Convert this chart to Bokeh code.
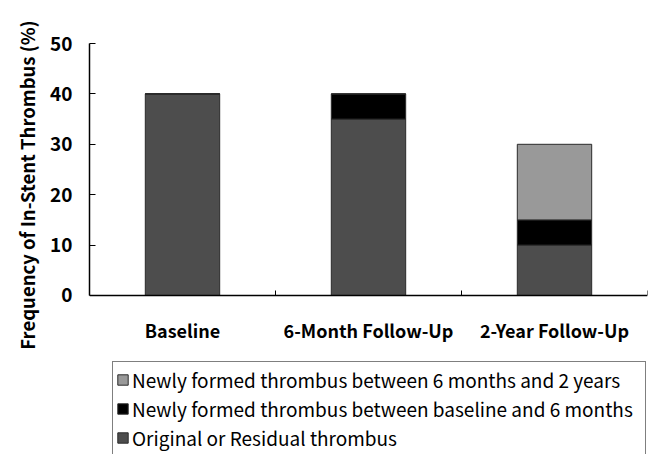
from bokeh.plotting import figure
from bokeh.models import Range1d, FixedTicker, Legend, LegendItem, ColumnDataSource, Title
from bokeh.embed import file_html
from bokeh.resources import INLINE

# Stacked frequencies of in-stent thrombus per follow-up visit (%)
visits = ["Baseline", "6-Month Follow-Up", "2-Year Follow-Up"]
original_residual = [40, 35, 10]
new_base_to_6m = [0, 5, 5]
new_6m_to_2y = [0, 0, 15]

series_names = [
    "Newly formed thrombus between 6 months and 2 years",
    "Newly formed thrombus between baseline and 6 months",
    "Original or Residual thrombus",
]
y_ticks = [0, 10, 20, 30, 40, 50]

FONT = "Noto Sans CJK JP"
C_ORIG = "#4d4d4d"
C_6M = "#000000"
C_2Y = "#999999"

centers = [i + 0.5 for i in range(len(visits))]
bounds = [float(i + 1) for i in range(len(visits))]

src = ColumnDataSource(dict(
    x=centers,
    orig=original_residual,
    b6=new_base_to_6m,
    b2=new_6m_to_2y,
))

# The frame runs down to the bottom edge so the legend below the bars
# can sit inside it; the value axis only spans 0..50.
p = figure(width=663, height=454, output_backend="svg", toolbar_location=None,
           x_range=Range1d(0, len(visits)), y_range=Range1d(-31.55, 50),
           min_border_left=89, min_border_right=16, min_border_top=43,
           min_border_bottom=0)
p.outline_line_color = None
p.xgrid.visible = False
p.ygrid.visible = False
p.background_fill_color = "white"
p.border_fill_color = "white"

renderers = p.vbar_stack(["orig", "b6", "b2"], x="x", width=0.4, source=src,
                         fill_color=[C_ORIG, C_6M, C_2Y],
                         line_color="#2a2a2a", line_width=1)

# x axis pinned at zero: names under the bars, small ticks between groups
xa = p.xaxis[0]
xa.fixed_location = 0
xa.ticker = FixedTicker(ticks=centers, minor_ticks=bounds)
xa.major_label_overrides = {c: v for c, v in zip(centers, visits)}
xa.major_tick_in = 0
xa.major_tick_out = 0
xa.minor_tick_in = 5
xa.minor_tick_out = 0
xa.minor_tick_line_color = "black"
xa.axis_line_color = "black"
xa.axis_line_width = 1.5
xa.major_label_standoff = 22
xa.major_label_text_font = FONT
xa.major_label_text_font_style = "bold"
xa.major_label_text_font_size = "18px"
xa.major_label_text_color = "black"

ya = p.yaxis[0]
ya.bounds = (0, 50)
ya.ticker = FixedTicker(ticks=y_ticks)
ya.major_tick_in = 6
ya.major_tick_out = 0
ya.minor_tick_line_color = None
ya.axis_line_color = "black"
ya.axis_line_width = 1.5
ya.major_tick_line_color = "black"
ya.major_label_standoff = 17
ya.major_label_text_font = FONT
ya.major_label_text_font_style = "bold"
ya.major_label_text_font_size = "19px"
ya.major_label_text_color = "black"

# value-axis title, kept level with the 0..50 part of the axis
ytitle = Title(text="Frequency of In-Stent Thrombus (%)", align="right",
               offset=-23, standoff=15, text_font=FONT,
               text_font_style="bold", text_font_size="18.5px",
               text_color="black")
p.add_layout(ytitle, "left")

legend = Legend(items=[
    LegendItem(label=series_names[0], renderers=[renderers[2]]),
    LegendItem(label=series_names[1], renderers=[renderers[1]]),
    LegendItem(label=series_names[2], renderers=[renderers[0]]),
], location=(23, -2))
legend.label_text_font = FONT
legend.label_text_font_size = "19px"
legend.label_text_color = "black"
legend.glyph_width = 13
legend.glyph_height = 13
legend.label_height = 29
legend.label_width = 510
legend.label_standoff = 3
legend.spacing = 0
legend.padding = 3
legend.margin = 0
legend.border_line_color = "black"
legend.border_line_width = 1
legend.background_fill_alpha = 1
p.add_layout(legend, "center")

open("out.html", "w").write(file_html(p, INLINE))
